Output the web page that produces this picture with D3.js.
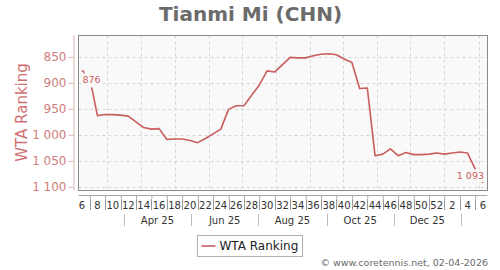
<!DOCTYPE html>
<html>
<head>
<meta charset="utf-8">
<script src="https://cdn.jsdelivr.net/npm/d3@7"></script>
<style>
  body { margin: 0; background: #fff; }
  svg { display: block; font-family: "DejaVu Sans", sans-serif; }
</style>
</head>
<body>
<svg id="chart" width="500" height="270"></svg>
<script>
// weekly WTA ranking, week 6 2025 -> week 6 2026
var weeks = [6, 7, 8, 9, 10, 11, 12, 13, 14, 15, 16, 17, 18, 19, 20, 21, 22, 23, 24, 25,
  26, 27, 28, 29, 30, 31, 32, 33, 34, 35, 36, 37, 38, 39, 40, 41, 42, 43, 44, 45,
  46, 47, 48, 49, 50, 51, 52, 1, 2, 3, 4, 5, 6];
var ranks = [876, 890, 963, 961, 961, 962, 964, 975, 986, 989, 988, 1009, 1008, 1008, 1011, 1015, 1007, 998, 989, 951,
  944, 944, 924, 904, 877, 879, 865, 851, 852, 852, 848, 845, 844, 846, 854, 861, 911, 910, 1040, 1037,
  1027, 1040, 1034, 1038, 1038, 1037, 1035, 1037, 1035, 1033, 1035, 1066, 1093];
var yTicks = [850, 900, 950, 1000, 1050, 1100];
var monthLabels = ['Apr 25', 'Jun 25', 'Aug 25', 'Oct 25', 'Dec 25'];
var seriesName = 'WTA Ranking';
var firstWeek = new Date(2025, 1, 6);

var data = ranks.map(function(r, i) {
  return { week: weeks[i], date: d3.timeWeek.offset(firstWeek, i), rank: r };
});

var fmt = d3.formatLocale({ decimal: '.', thousands: ' ', grouping: [3], currency: ['', ''] }).format(',d');

var plot = { left: 78.5, top: 35.5, right: 487.5, bottom: 190.5 };
var lineColor = '#c95e5e';

var svg = d3.select('#chart');

var x = d3.scaleTime()
  .domain([data[0].date, data[data.length - 1].date])
  .range([82, 483]);

var y = d3.scaleLinear()
  .domain([808, 1106])
  .range([35, 190]);

// title
svg.append('text')
  .attr('x', 250.5).attr('y', 20.5)
  .attr('text-anchor', 'middle')
  .style('font-size', '20px').style('font-weight', 'bold')
  .style('fill', '#6b6b6b')
  .text('Tianmi Mi (CHN)');

// plot background
svg.append('rect')
  .attr('x', plot.left).attr('y', plot.top)
  .attr('width', plot.right - plot.left).attr('height', plot.bottom - plot.top)
  .style('fill', '#f9f9f9');

// grid
var monthStarts = d3.timeMonth.range(new Date(2025, 1, 7), new Date(2026, 1, 5));
svg.append('g').selectAll('line')
  .data(monthStarts)
  .join('line')
    .attr('x1', function(d) { return Math.round(x(d)) + 0.5; })
    .attr('x2', function(d) { return Math.round(x(d)) + 0.5; })
    .attr('y1', plot.top).attr('y2', plot.bottom)
    .style('stroke', '#d6d6d6').style('stroke-dasharray', '3,3');

svg.append('g').selectAll('line')
  .data(yTicks)
  .join('line')
    .attr('x1', plot.left).attr('x2', plot.right)
    .attr('y1', function(d) { return Math.round(y(d)) + 0.5; })
    .attr('y2', function(d) { return Math.round(y(d)) + 0.5; })
    .style('stroke', '#d6d6d6').style('stroke-dasharray', '3,3');

// series line
svg.append('path')
  .datum(data)
  .attr('d', d3.line().x(function(d) { return x(d.date); }).y(function(d) { return y(d.rank); }))
  .style('fill', 'none')
  .style('stroke', lineColor)
  .style('stroke-width', 1.6)
  .style('stroke-linejoin', 'round');

// value labels on first and last point, boxed like the original
var first = data[0], last = data[data.length - 1];
var labels = [
  { d: first, dx: 0.5, dy: 13, anchor: 'start', pad: [2, 3, 1, 2] },
  { d: last, dx: 1, dy: -4, anchor: 'end', pad: [2, 1, 1, 1] }
];
labels.forEach(function(l) {
  var g = svg.append('g');
  var t = g.append('text')
    .attr('x', x(l.d.date) + l.dx).attr('y', y(l.d.rank) + l.dy)
    .attr('text-anchor', l.anchor)
    .style('font-size', '9.5px').style('fill', lineColor)
    .text(fmt(l.d.rank));
  var bb = t.node().getBBox();
  // pad: left, top, right, bottom
  g.insert('rect', 'text')
    .attr('x', bb.x + l.pad[0]).attr('y', bb.y - l.pad[1])
    .attr('width', bb.width - l.pad[0] + l.pad[2] + 1)
    .attr('height', bb.height + l.pad[1] + l.pad[3])
    .style('fill', '#f9f9f9');
});

// frame
svg.append('rect')
  .attr('x', plot.left).attr('y', plot.top)
  .attr('width', plot.right - plot.left).attr('height', plot.bottom - plot.top)
  .style('fill', 'none').style('stroke', '#8a8a8a');

// y axis
var yAxis = d3.axisLeft(y)
  .tickValues(yTicks)
  .tickFormat(fmt)
  .tickSize(5)
  .tickSizeOuter(0)
  .tickPadding(2);

var yg = svg.append('g')
  .attr('transform', 'translate(73.5, 0)')
  .call(yAxis);
yg.select('.domain').style('stroke', '#e2b3b3');
yg.selectAll('.tick line').style('stroke', '#e2b3b3');
yg.selectAll('.tick text')
  .style('font-size', '12px').style('font-family', '"DejaVu Sans", sans-serif')
  .style('fill', '#d07c7c');

svg.append('text')
  .attr('transform', 'translate(26.5, 112.5) rotate(-90)')
  .attr('text-anchor', 'middle')
  .style('font-size', '15px').style('fill', '#cf7070')
  .text(seriesName);

// x axis: weeks
svg.append('line')
  .attr('x1', plot.left).attr('x2', plot.right)
  .attr('y1', 195.5).attr('y2', 195.5)
  .style('stroke', '#a8a8a8');

var oddWeeks = data.filter(function(d) { return d.week % 2 === 1; });
var evenWeeks = data.filter(function(d) { return d.week % 2 === 0; });

var xAxis = d3.axisBottom(x)
  .tickValues(oddWeeks.map(function(d) { return d.date; }))
  .tickFormat('')
  .tickSize(3)
  .tickSizeOuter(0);
var xg = svg.append('g')
  .attr('transform', 'translate(0, 195.5)')
  .call(xAxis);
xg.select('.domain').remove();
xg.selectAll('.tick line').style('stroke', '#a8a8a8');

svg.append('g').selectAll('line')
  .data(oddWeeks)
  .join('line')
    .attr('x1', function(d) { return Math.round(x(d.date)) + 0.5; })
    .attr('x2', function(d) { return Math.round(x(d.date)) + 0.5; })
    .attr('y1', 199).attr('y2', 210)
    .style('stroke', '#9a9a9a');

svg.append('g').selectAll('text')
  .data(evenWeeks)
  .join('text')
    .attr('x', function(d) { return x(d.date); })
    .attr('y', 208.5)
    .attr('text-anchor', 'middle')
    .style('font-size', '10px').style('fill', '#333')
    .text(function(d) { return d.week; });

// x axis: months
var monthSeps = [2, 4, 6, 8, 10, 12].map(function(m) { return new Date(2025, m, 16); });
svg.append('g').selectAll('line')
  .data(monthSeps)
  .join('line')
    .attr('x1', function(d) { return Math.round(x(d)) + 0.5; })
    .attr('x2', function(d) { return Math.round(x(d)) + 0.5; })
    .attr('y1', 214).attr('y2', 226)
    .style('stroke', '#bdbdbd');

svg.append('g').selectAll('text')
  .data(monthLabels)
  .join('text')
    .attr('x', function(d, i) { return (x(monthSeps[i]) + x(monthSeps[i + 1])) / 2; })
    .attr('y', 224)
    .attr('text-anchor', 'middle')
    .style('font-size', '10px').style('fill', '#333')
    .text(function(d) { return d; });

// legend
var legend = svg.append('g').attr('transform', 'translate(197.5, 235.5)');
legend.append('rect')
  .attr('width', 105).attr('height', 21)
  .style('fill', '#fff').style('stroke', '#b0b0b0');
legend.append('line')
  .attr('x1', 4).attr('x2', 18).attr('y1', 10.5).attr('y2', 10.5)
  .style('stroke', lineColor).style('stroke-width', 1.6);
legend.append('text')
  .attr('x', 22).attr('y', 14.5)
  .style('font-size', '12px').style('fill', '#222')
  .text(seriesName);

// credit
svg.append('text')
  .attr('x', 488).attr('y', 266)
  .attr('text-anchor', 'end')
  .style('font-size', '9.5px').style('fill', '#6a6a6a')
  .text('\u00a9 www.coretennis.net, 02-04-2026');
</script>
</body>
</html>
